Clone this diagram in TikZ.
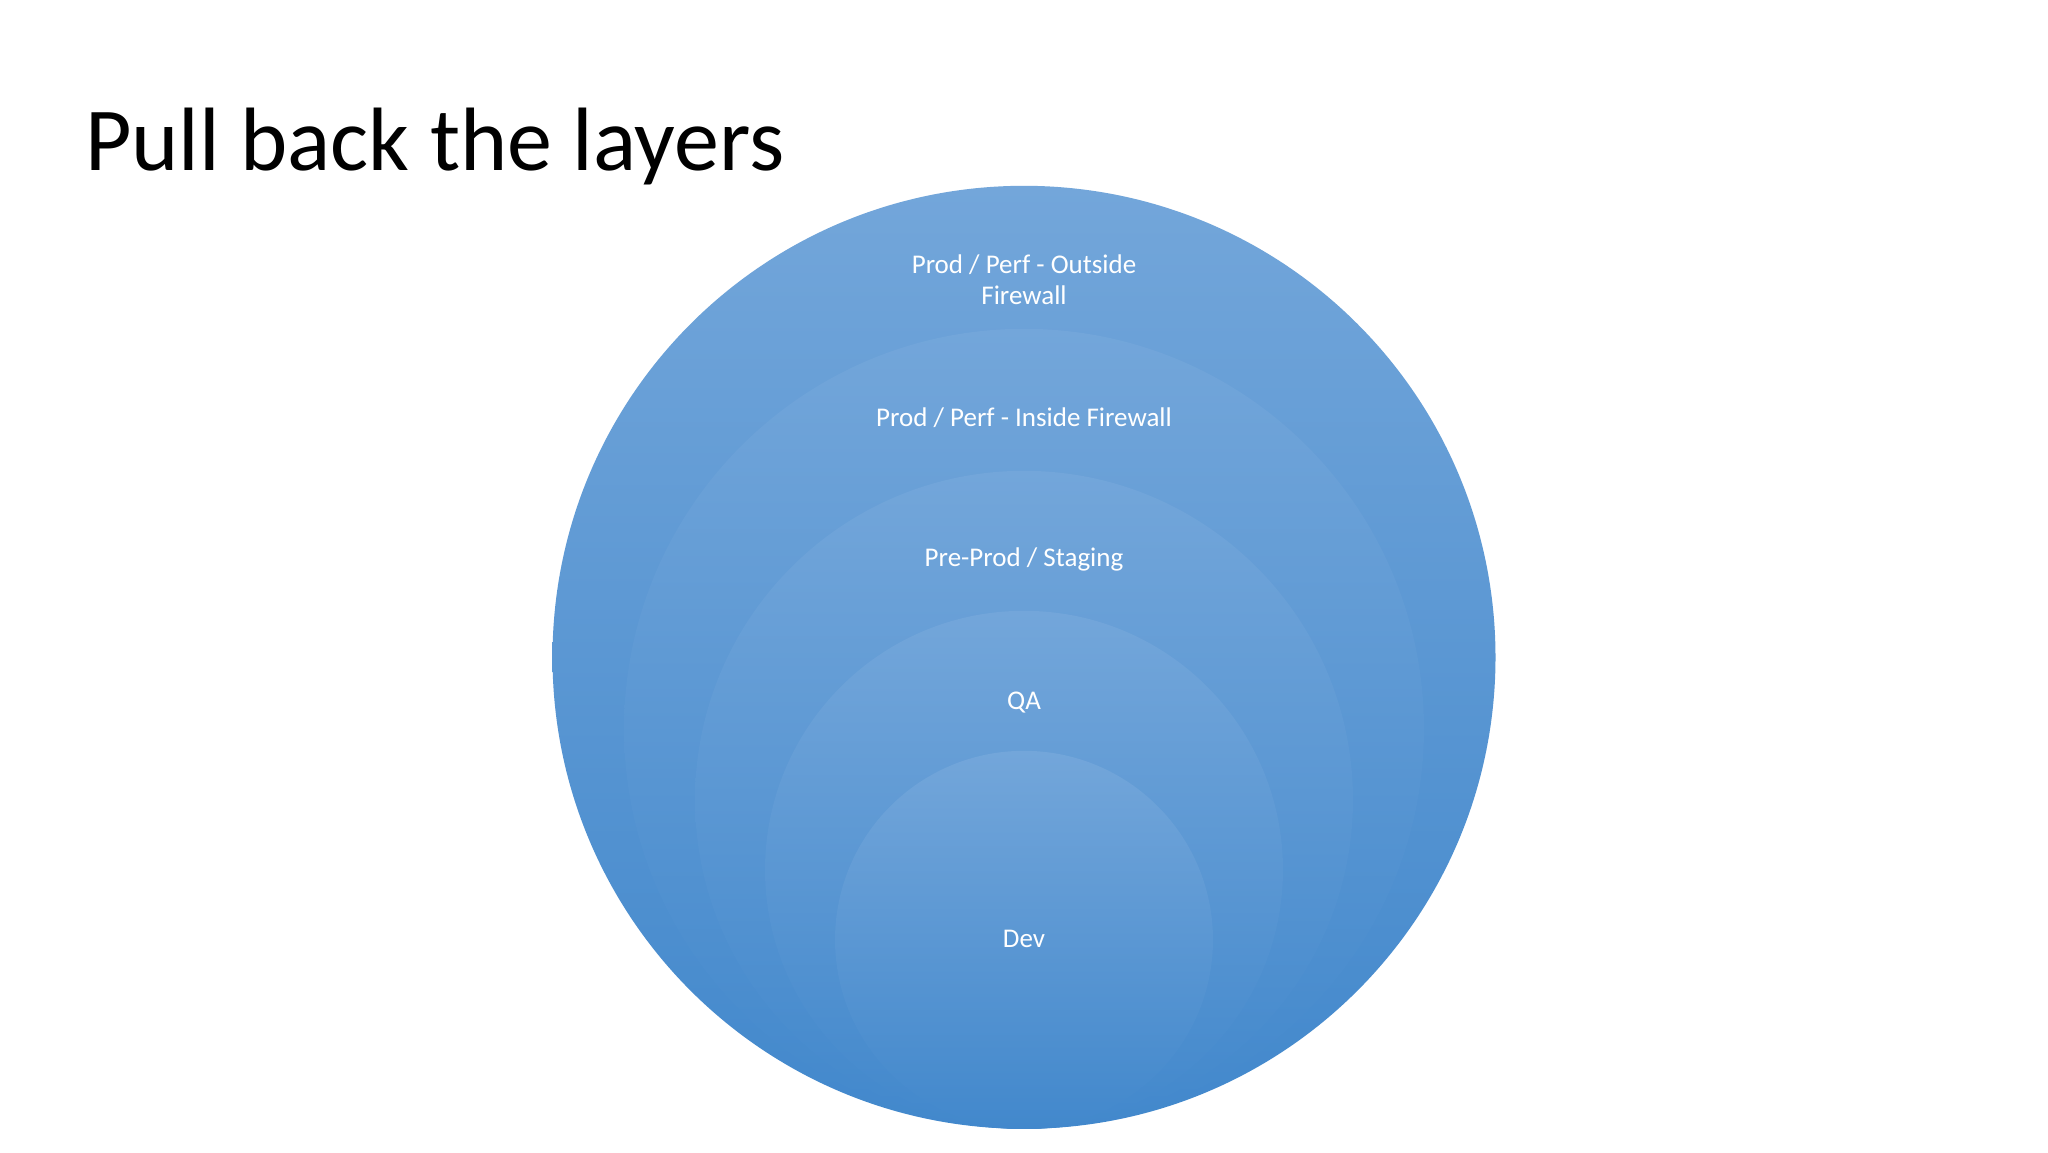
\documentclass[tikz,border=0pt]{standalone}
\usepackage{fontspec}
\setmainfont{Carlito}
\usetikzlibrary{positioning}

\definecolor{layertop}{RGB}{115,166,218}
\definecolor{layerbot}{RGB}{66,136,204}

\tikzset{
  layer/.style={circle, inner sep=0pt, anchor=south, top color=layertop, bottom color=layerbot},
  layertext/.style={text=white, align=center, font=\fontsize{27}{31}\selectfont}
}

\begin{document}
\begin{tikzpicture}[x=1pt,y=-1pt]

    \useasboundingbox[fill=white] (0,0) rectangle (2048,1152);

    % Title
    \node[anchor=base west, inner sep=0pt, font=\fontsize{90}{100}\selectfont] (title) at (85,170) {Pull back the layers};

    % Place layers, all resting on the same bottom point
    \coordinate (base) at (1024,1129);
    \node[layer, minimum size=943pt] (outside) at (base) {};
    \node[layer, minimum size=800pt] (inside) at (base) {};
    \node[layer, minimum size=658pt] (preprod) at (base) {};
    \node[layer, minimum size=518pt] (qa) at (base) {};
    \node[layer, minimum size=378pt] (dev) at (base) {};

    % Labels
    \node[layertext] (outsidelbl) at (1024,280) {Prod / Perf - Outside\\Firewall};
    \node[layertext] (insidelbl) at (1024,418) {Prod / Perf - Inside Firewall};
    \node[layertext] (preprodlbl) at (1024,559) {Pre-Prod / Staging};
    \node[layertext] (qalbl) at (1024,703) {QA};
    \node[layertext] (devlbl) at (1024,939) {Dev};

\end{tikzpicture}
\end{document}
